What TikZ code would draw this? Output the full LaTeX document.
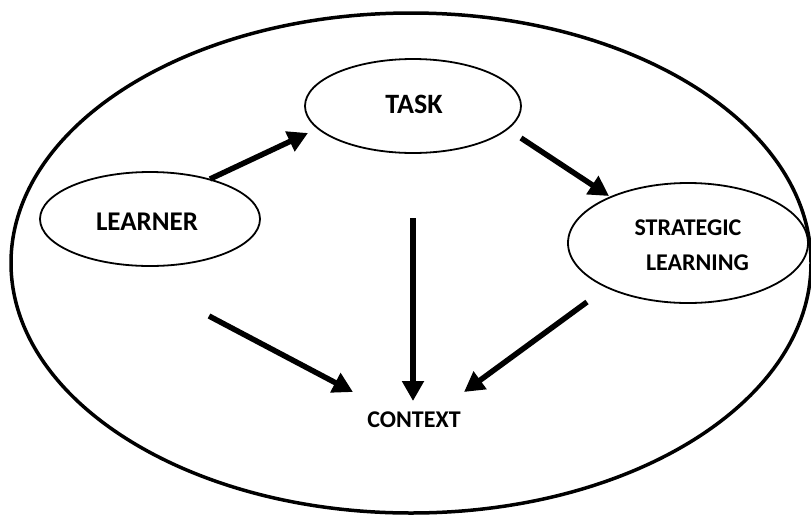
\documentclass[tikz,border=0pt]{standalone}
\usepackage{fontspec}
\setmainfont{Carlito}
\usetikzlibrary{arrows.meta,shapes.geometric}
\tikzset{
  inner/.style={ellipse, draw, line width=1.8pt, inner sep=0pt},
  big/.style={ellipse, draw, line width=3.5pt, inner sep=0pt},
  flow/.style={line width=5.5pt, -{Triangle[length=20pt,width=21pt]}},
  lbl/.style={font=\bfseries\fontsize{#1}{#1}\selectfont, inner sep=0pt}
}
\begin{document}
\begin{tikzpicture}[x=1pt,y=-1pt]
\useasboundingbox (0,0) rectangle (811,515);
\node[big, minimum width=800, minimum height=500] (outer) at (411,263) {};
\node[inner, minimum width=216, minimum height=94] (task) at (413,106) {};
\node[inner, minimum width=220, minimum height=94] (learner) at (150,219) {};
\node[inner, minimum width=240, minimum height=120] (strat) at (688,243) {};
\node[lbl=28] (tasklbl) at (414,104) {TASK};
\node[lbl=27] (learnerlbl) at (147,222) {LEARNER};
\node[lbl=24, anchor=base] (strat1) at (688,235) {STRATEGIC};
\node[lbl=24, anchor=base] (strat2) at (697.5,270) {LEARNING};
\node[lbl=24, anchor=base] (context) at (414,427) {CONTEXT};
\coordinate (a1s) at (210,179); \coordinate (a1e) at (308,133);
\coordinate (a2s) at (521,138); \coordinate (a2e) at (609,196);
\coordinate (a3s) at (413,218); \coordinate (a3e) at (413,401);
\coordinate (a4s) at (209,316); \coordinate (a4e) at (353,392);
\coordinate (a5s) at (587,302); \coordinate (a5e) at (464,392);
\draw[flow] (a1s) -- (a1e);
\draw[flow] (a2s) -- (a2e);
\draw[flow] (a3s) -- (a3e);
\draw[flow] (a4s) -- (a4e);
\draw[flow] (a5s) -- (a5e);
\end{tikzpicture}
\end{document}
